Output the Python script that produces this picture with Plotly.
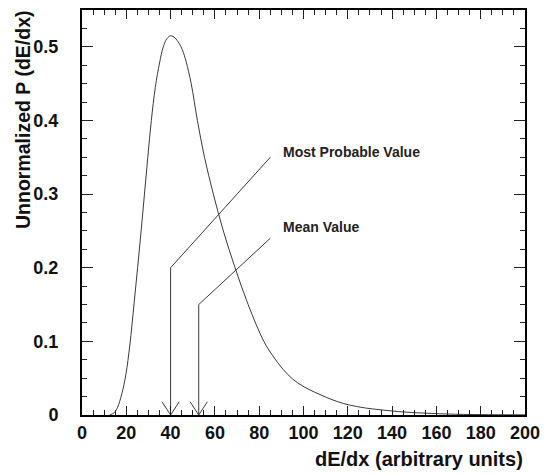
import plotly.graph_objects as go

# Landau-like curve
curve_x = [12.5, 14.5, 16.0, 18.0, 19.8, 21.6, 23.4, 25.1, 26.7, 28.2, 29.7, 31.3, 33.1,
           35.0, 36.7, 38.3, 40.1, 42.0, 43.8, 45.3, 47.0, 49.3, 52.1, 55.3, 59.3, 63.8,
           69.1, 75.0, 82.1, 86.0, 90.8, 95.0, 99.8, 105.0, 110.3, 115.5, 120.8, 128.0,
           135.8, 143.0, 150.8, 165.0, 180.0, 200.0]
curve_y = [0.0, 0.003, 0.010, 0.029, 0.055, 0.095, 0.148, 0.20, 0.25, 0.30, 0.35, 0.40, 0.445,
           0.478, 0.50, 0.511, 0.515, 0.512, 0.505, 0.496, 0.48, 0.45, 0.40, 0.35, 0.30, 0.25,
           0.20, 0.15, 0.10, 0.081, 0.062, 0.049, 0.039, 0.031, 0.024, 0.018, 0.0135, 0.0095,
           0.0067, 0.0046, 0.0031, 0.0013, 0.0005, 0.0002]

# Markers
mpv_x = 40.0
mpv_knee_y = 0.20
mean_x = 52.7
mean_knee_y = 0.15
label_x = 85.0
mpv_label_line_y = 0.35
mean_label_line_y = 0.24
mpv_text = "Most Probable Value"
mean_text = "Mean Value"
mpv_text_y = 0.357
mean_text_y = 0.255
text_x = 90.0

x_ticks = [0, 20, 40, 60, 80, 100, 120, 140, 160, 180, 200]
y_ticks = [0, 0.1, 0.2, 0.3, 0.4, 0.5]
y_tick_labels = ["0", "0.1", "0.2", "0.3", "0.4", "0.5"]

LINE = "#3a3a3a"
TICK = "#222222"
FONT = "Liberation Sans"

fig = go.Figure()
fig.add_trace(go.Scatter(x=curve_x, y=curve_y, mode="lines",
                         line=dict(color=LINE, width=1, shape="spline", smoothing=1.0),
                         hoverinfo="skip", showlegend=False))

head_dx = 3.9
head_dy = 0.018
for ax_, knee_y, top_y in [(mpv_x, mpv_knee_y, mpv_label_line_y),
                           (mean_x, mean_knee_y, mean_label_line_y)]:
    fig.add_trace(go.Scatter(x=[label_x, ax_, ax_], y=[top_y, knee_y, 0],
                             mode="lines", line=dict(color=LINE, width=1),
                             hoverinfo="skip", showlegend=False))
    fig.add_trace(go.Scatter(x=[ax_ - head_dx, ax_, ax_ + head_dx], y=[head_dy, 0, head_dy],
                             mode="lines", line=dict(color=LINE, width=1),
                             hoverinfo="skip", showlegend=False))

fig.add_annotation(x=text_x, y=mpv_text_y, xref="x", yref="y", text=mpv_text,
                   showarrow=False, xanchor="left", yanchor="middle",
                   font=dict(family=FONT, size=14, color="#222222", weight="bold"))
fig.add_annotation(x=text_x, y=mean_text_y, xref="x", yref="y", text=mean_text,
                   showarrow=False, xanchor="left", yanchor="middle",
                   font=dict(family=FONT, size=14, color="#222222", weight="bold"))

# Axis titles (ROOT style: right / top aligned)
fig.add_annotation(x=1.0, y=-0.108, xref="paper", yref="paper",
                   text="dE/dx (arbitrary units)", showarrow=False,
                   xanchor="right", yanchor="middle",
                   font=dict(family=FONT, size=20, color="#111111", weight="bold"))
fig.add_annotation(x=-0.132, y=1.005, xref="paper", yref="paper",
                   text="Unnormalized P (dE/dx)", showarrow=False, textangle=-90,
                   xanchor="center", yanchor="top",
                   font=dict(family=FONT, size=19.5, color="#111111", weight="bold"))

fig.update_layout(
    width=548, height=474,
    margin=dict(l=82, r=23, t=8, b=59),
    paper_bgcolor="white", plot_bgcolor="white",
    showlegend=False,
)
fig.update_xaxes(range=[0, 200], tickvals=x_ticks, ticks="inside", ticklen=9,
                 tickwidth=1, tickcolor=TICK, showline=True, linewidth=2,
                 linecolor="black", mirror="allticks", showgrid=False, zeroline=False,
                 tickfont=dict(family=FONT, size=18, color="#111111", weight="bold"),
                 ticklabelstandoff=0,
                 minor=dict(dtick=5, ticklen=5, ticks="inside", tickwidth=1,
                            tickcolor=TICK, showgrid=False))
fig.update_yaxes(range=[0, 0.55], tickvals=y_ticks, ticktext=y_tick_labels,
                 ticks="inside", ticklen=11,
                 tickwidth=1, tickcolor=TICK, showline=True, linewidth=2,
                 linecolor="black", mirror="allticks", showgrid=False, zeroline=False,
                 tickfont=dict(family=FONT, size=18, color="#111111", weight="bold"),
                 ticklabelstandoff=18,
                 minor=dict(dtick=0.025, ticklen=5, ticks="inside", tickwidth=1,
                            tickcolor=TICK, showgrid=False))

fig.write_html("out.html")
